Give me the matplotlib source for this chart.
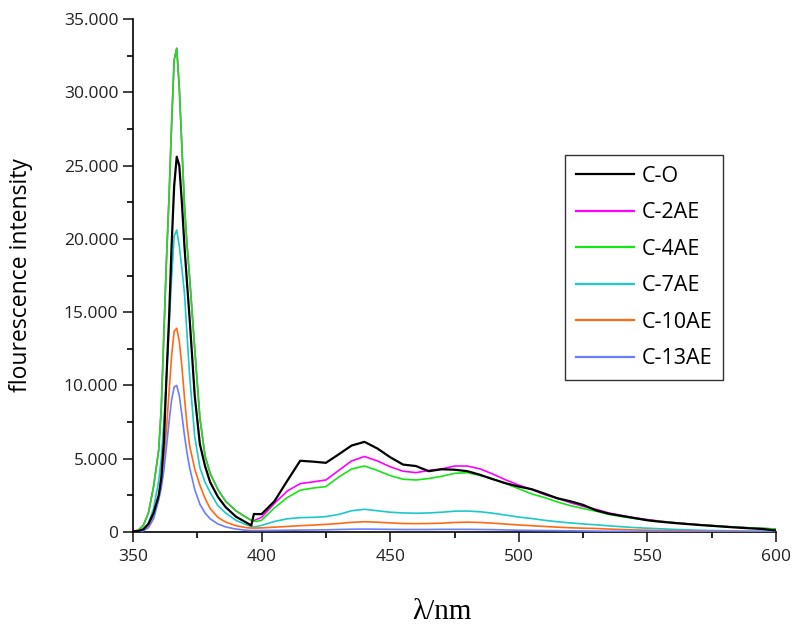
import matplotlib
matplotlib.use('Agg')
import matplotlib.pyplot as plt
from matplotlib.ticker import MultipleLocator, FuncFormatter

plt.rcParams['font.family'] = ['Open Sans', 'DejaVu Sans']

# wavelength grid (nm), dense around the sharp 366 nm peak
wl = [350, 352, 354, 356, 358, 360, 361, 362, 363, 364, 365, 366, 367, 368, 369, 370,
      371, 372, 374, 376, 378, 380, 383, 386, 390, 394, 396, 397, 398,
      400, 405, 410, 415, 420, 425, 430, 435, 440, 445, 450, 455, 460, 465, 470, 475,
      480, 485, 490, 495, 500, 505, 510, 515, 520, 525, 530, 535, 540, 545, 550, 555,
      560, 565, 570, 575, 580, 585, 590, 595, 600]

# intensities in thousands
c_o = [0.05, 0.06, 0.18, 0.55, 1.3, 2.5, 3.7, 6.1, 10.5, 14.5, 19.5, 23.6, 25.6, 25.0, 22.5, 19.5,
       17.0, 14.6, 9.3, 6.0, 4.5, 3.4, 2.4, 1.7, 1.05, 0.65, 0.45, 1.23, 1.22,
       1.22, 2.1, 3.5, 4.86, 4.8, 4.72, 5.3, 5.9, 6.15, 5.7, 5.1, 4.6, 4.5, 4.15, 4.28, 4.25,
       4.15, 3.9, 3.6, 3.32, 3.1, 2.92, 2.62, 2.3, 2.1, 1.85, 1.48, 1.25, 1.1, 0.95, 0.8, 0.7,
       0.62, 0.55, 0.48, 0.42, 0.36, 0.3, 0.25, 0.2, 0.1]
c_2ae = [0.05, 0.12, 0.45, 1.3, 3.1, 5.6, 8.5, 13.5, 18.5, 22.8, 27.8, 32.2, 33.0, 30.3, 26.3, 22.3,
         19.6, 17.4, 12.5, 7.8, 5.2, 4.0, 2.9, 2.1, 1.45, 1.0, 0.8, 0.78, 0.85,
         1.0, 1.95, 2.8, 3.3, 3.42, 3.55, 4.2, 4.85, 5.15, 4.85, 4.45, 4.15, 4.05, 4.2, 4.3, 4.5,
         4.5, 4.3, 3.95, 3.55, 3.2, 2.9, 2.55, 2.3, 2.0, 1.75, 1.55, 1.3, 1.12, 0.97, 0.85, 0.74,
         0.65, 0.57, 0.5, 0.44, 0.38, 0.33, 0.28, 0.24, 0.2]
c_4ae = [0.05, 0.12, 0.45, 1.3, 3.1, 5.6, 8.5, 13.5, 18.5, 22.8, 27.8, 32.2, 33.0, 30.3, 26.3, 22.3,
         19.6, 17.4, 12.5, 7.8, 5.2, 4.0, 2.9, 2.1, 1.45, 1.0, 0.8, 0.74, 0.72,
         0.8, 1.65, 2.35, 2.85, 3.0, 3.1, 3.75, 4.3, 4.5, 4.2, 3.85, 3.6, 3.55, 3.65, 3.8, 4.0,
         4.05, 3.85, 3.6, 3.3, 2.95, 2.6, 2.35, 2.05, 1.8, 1.6, 1.42, 1.2, 1.05, 0.92, 0.82, 0.72,
         0.64, 0.56, 0.5, 0.44, 0.38, 0.33, 0.28, 0.25, 0.2]
c_7ae = [0.03, 0.05, 0.2, 0.6, 1.6, 3.5, 5.0, 7.5, 10.5, 14.0, 17.3, 20.2, 20.6, 19.5, 18.0, 16.3,
         13.5, 10.7, 6.5, 4.4, 3.4, 2.7, 1.8, 1.3, 0.8, 0.5, 0.38, 0.36, 0.37,
         0.45, 0.72, 0.9, 0.98, 1.0, 1.05, 1.2, 1.45, 1.55, 1.45, 1.35, 1.3, 1.28, 1.3, 1.35, 1.42,
         1.43, 1.38, 1.28, 1.15, 1.02, 0.92, 0.8, 0.7, 0.62, 0.55, 0.49, 0.42, 0.36, 0.3, 0.26, 0.22,
         0.18, 0.15, 0.12, 0.1, 0.09, 0.07, 0.06, 0.05, 0.05]
c_10ae = [0.02, 0.04, 0.15, 0.45, 1.1, 2.3, 3.3, 5.0, 7.0, 9.5, 12.0, 13.7, 13.9, 13.0, 11.3, 9.2,
          7.3, 5.9, 4.3, 3.2, 2.3, 1.6, 1.0, 0.68, 0.43, 0.3, 0.27, 0.27, 0.27,
          0.28, 0.33, 0.38, 0.43, 0.47, 0.52, 0.58, 0.66, 0.7, 0.67, 0.62, 0.58, 0.57, 0.58, 0.6, 0.65,
          0.67, 0.65, 0.6, 0.54, 0.48, 0.43, 0.38, 0.33, 0.29, 0.26, 0.24, 0.2, 0.17, 0.14, 0.12, 0.1,
          0.09, 0.08, 0.07, 0.06, 0.05, 0.05, 0.04, 0.04, 0.04]
c_13ae = [0.01, 0.02, 0.08, 0.3, 0.9, 2.2, 3.0, 4.2, 5.8, 7.5, 9.0, 9.9, 10.0, 9.3, 8.0, 6.6,
          5.4, 4.4, 2.9, 1.9, 1.3, 0.9, 0.55, 0.35, 0.2, 0.12, 0.1, 0.1, 0.1,
          0.1, 0.11, 0.12, 0.13, 0.14, 0.15, 0.17, 0.19, 0.2, 0.19, 0.18, 0.17, 0.17, 0.17, 0.18, 0.18,
          0.18, 0.17, 0.16, 0.14, 0.12, 0.11, 0.1, 0.09, 0.08, 0.07, 0.06, 0.05, 0.05, 0.04, 0.04, 0.03,
          0.03, 0.03, 0.03, 0.03, 0.02, 0.02, 0.02, 0.02, 0.02]

labels = ['C-O', 'C-2AE', 'C-4AE', 'C-7AE', 'C-10AE', 'C-13AE']
series = [c_o, c_2ae, c_4ae, c_7ae, c_10ae, c_13ae]
colors = ['#000000', '#ff00ff', '#14e614', '#1cc8c8', '#ff6a14', '#6a7dff']
widths = [1.6, 1.2, 1.2, 1.2, 1.2, 1.2]
zorders = [6, 2, 3, 4, 5, 5]

fig = plt.figure(figsize=(7.93, 6.3), dpi=100)
ax = fig.add_axes([133 / 793, 1 - 532 / 630, 643 / 793, 513 / 630])

for y, lab, c, lw, z in zip(series, labels, colors, widths, zorders):
    ax.plot(wl, [v * 1000 for v in y], color=c, lw=lw, label=lab, zorder=z)

ax.set_xlim(350, 600)
ax.set_ylim(0, 35000)
ax.xaxis.set_major_locator(MultipleLocator(50))
ax.xaxis.set_minor_locator(MultipleLocator(25))
ax.yaxis.set_major_locator(MultipleLocator(5000))
ax.yaxis.set_minor_locator(MultipleLocator(2500))
ax.yaxis.set_major_formatter(FuncFormatter(lambda v, p: f'{v:,.0f}'.replace(',', '.')))

for s in ['top', 'right']:
    ax.spines[s].set_visible(False)
for s in ['left', 'bottom']:
    ax.spines[s].set_linewidth(1.2)
ax.tick_params(which='major', direction='out', length=7, width=1.2, labelsize=12.5, colors='#222222')
ax.tick_params(which='minor', direction='out', length=4, width=1.2)
ax.tick_params(axis='x', pad=5)

ax.set_ylabel('flourescence intensity', fontsize=16.5)
ax.yaxis.set_label_coords(-0.1555, 0.5)
ax.set_xlabel('λ/nm', fontsize=21, family=['Liberation Serif', 'DejaVu Serif'])
ax.xaxis.set_label_coords(0.48, -0.13)

leg = ax.legend(loc='upper left', bbox_to_anchor=(565 / 793, 1 - 155 / 630),
                bbox_transform=fig.transFigure, borderaxespad=0, fancybox=False,
                edgecolor='black', fontsize=15.5, handlelength=2.7, labelspacing=0.72,
                handletextpad=0.35, borderpad=0.5)
leg.get_frame().set_linewidth(1.0)
for line in leg.get_lines():
    line.set_linewidth(1.6)

fig.savefig('out.png', dpi=100)
